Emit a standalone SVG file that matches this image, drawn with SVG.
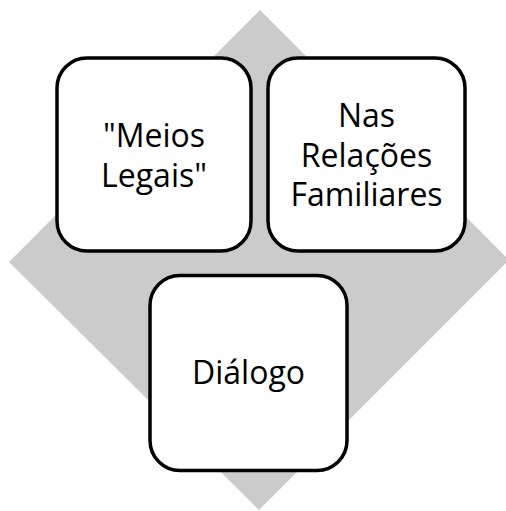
<svg xmlns="http://www.w3.org/2000/svg" width="506" height="511" viewBox="0 0 506 511">
<style>
.bg{fill:#cbcbcb;stroke:none}
.box{fill:#ffffff;stroke:#000000;stroke-width:3.5}
.t{font-family:"Open Sans","Noto Sans",sans-serif;font-size:32px;fill:#000000;text-anchor:middle}
</style>
<rect width="506" height="511" fill="#ffffff"/>
<polygon class="bg" points="260,10 509,260 259,510 9,262"/>
<g id="connectors"></g>
<g id="node-meios">
<rect class="box" x="57" y="58" width="194" height="193" rx="30" ry="30"/>
<text class="t" x="154" y="147"><tspan x="154" y="147">"Meios</tspan><tspan x="154" y="187">Legais"</tspan></text>
</g>
<g id="node-nas">
<rect class="box" x="268" y="58" width="197" height="193" rx="30" ry="30"/>
<text class="t" x="366.5" y="127"><tspan x="366.5" y="127">Nas</tspan><tspan x="366.5" y="166.5">Relações</tspan><tspan x="366.5" y="206">Familiares</tspan></text>
</g>
<g id="node-dialogo">
<rect class="box" x="150" y="275.5" width="197" height="195" rx="30" ry="30"/>
<text class="t" x="248.5" y="384">Diálogo</text>
</g>
</svg>
